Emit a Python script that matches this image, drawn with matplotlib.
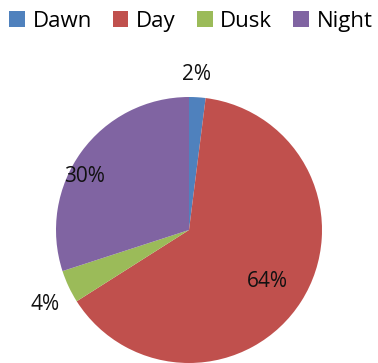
import numpy as np
import matplotlib
matplotlib.use("Agg")
import matplotlib.pyplot as plt

labels = ["Dawn", "Day", "Dusk", "Night"]
shares = [2, 64, 4, 30]
colors = ["#4F81BD", "#C0504D", "#9BBB59", "#8064A2"]
# where each percentage label sits: fraction of radius, and a nudge in degrees
label_dist = [1.17, 0.71, 1.22, 0.88]
label_nudge = [1, -1, 2, 9]

plt.rcParams['font.family'] = ['Open Sans', 'DejaVu Sans']

fig = plt.figure(figsize=(3.78, 3.63), dpi=100)
ax = fig.add_axes([0, 0, 1, 1])

cx, cy, r = 189, 133, 133
wedges, _ = ax.pie(shares, colors=colors, startangle=90, counterclock=False,
                   center=(cx, cy), radius=r, frame=True,
                   wedgeprops=dict(linewidth=0))
ax.set_xlim(0, 378)
ax.set_ylim(0, 363)
ax.set_aspect('equal')
ax.axis('off')

total = sum(shares)
start = 90.0
for val, d, nudge in zip(shares, label_dist, label_nudge):
    sweep = val / total * 360
    mid = np.radians(start - sweep / 2 + nudge)
    start -= sweep
    ax.text(cx + d * r * np.cos(mid), cy + d * r * np.sin(mid), f"{val}%",
            ha='center', va='center', fontsize=15, color='#111111')

leg = fig.legend(wedges, labels, loc='upper center', bbox_to_anchor=(0.505, 1.025),
                 ncol=4, frameon=False, fontsize=16, handlelength=0.7,
                 handleheight=0.7, handletextpad=0.35, columnspacing=0.95)

fig.savefig("out.png", dpi=100)
